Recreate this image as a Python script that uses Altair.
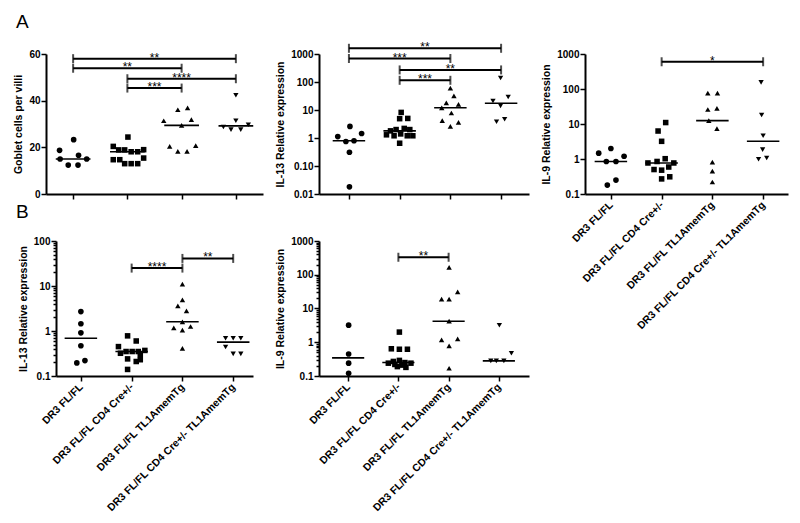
import json
import altair as alt
import pandas as pd

CATS = ["DR3 FL/FL", "DR3 FL/FL CD4 Cre+/-", "DR3 FL/FL TL1AmemTg",
        "DR3 FL/FL CD4 Cre+/- TL1AmemTg"]
SHAPES = ["circle", "square", "triangle-up", "triangle-down"]
SIZES = [32, 28, 38, 38]

# ---- Panel A1: Goblet cells per villi ----
A1_VALS = [
    [23.3, 18.7, 16.6, 15.0, 15.0, 12.4, 12.4],
    [24.4, 20.4, 18.9, 18.9, 18.1, 18.1, 19.0, 15.4, 14.7, 14.7, 13.0, 13.0, 13.0],
    [36.1, 36.9, 31.4, 31.9, 29.4, 20.7, 20.4, 18.3, 18.3],
    [42.3, 31.4, 29.7, 28.7, 27.6, 27.6],
]
A1_OFFS = [
    [0.01, -0.25, 0.10, -0.24, 0.25, -0.09, 0.09],
    [0.01, -0.26, -0.16, -0.05, 0.07, 0.19, 0.30, 0.30, -0.26, -0.14, -0.05, 0.07, 0.19],
    [-0.07, 0.11, -0.33, 0.18, 0.0, 0.26, -0.22, -0.07, 0.10],
    [0.0, 0.0, 0.23, -0.23, -0.09, 0.09],
]
A1_BR_FROM = [0, 0, 1, 1]
A1_BR_TO = [3, 2, 3, 2]
A1_BR_Y = [58, 53.9, 49.4, 45.4]
A1_BR_TXT = ["**", "**", "****", "***"]

# ---- Panel A2: IL-13 relative expression ----
A2_VALS = [
    [2.6, 1.12, 1.45, 0.75, 0.8, 0.31, 0.018],
    [8.2, 4.9, 5.0, 1.8, 2.0, 2.2, 1.3, 1.2, 1.4, 1.2, 1.2, 2.0, 0.65],
    [60, 32, 18, 16, 12, 7.8, 4.2, 3.6, 2.6],
    [138, 29, 21, 14, 3.8, 4.7],
]
A2_OFFS = [
    [0.02, -0.22, 0.25, -0.06, 0.10, 0.01, 0.01],
    [0.03, 0.0, 0.16, -0.18, -0.07, 0.09, -0.26, -0.11, 0.02, 0.15, 0.26, 0.20, 0.0],
    [0.0, 0.07, -0.08, 0.16, -0.17, 0.02, -0.16, 0.16, 0.0],
    [-0.01, 0.14, -0.16, -0.01, -0.09, 0.07],
]
A2_BR_FROM = [0, 0, 1, 1]
A2_BR_TO = [3, 2, 3, 2]
A2_BR_Y = [1600, 690, 270, 115]
A2_BR_TXT = ["**", "***", "**", "***"]

# ---- Panel A3: IL-9 relative expression ----
A3_VALS = [
    [1.47, 2.0, 1.2, 0.85, 0.85, 0.18, 0.25],
    [11, 6.3, 3.2, 0.77, 0.85, 1.02, 0.77, 0.5, 0.48, 0.59, 0.27, 0.31],
    [76, 76, 26, 28, 12.5, 7.4, 0.81, 0.45, 0.22],
    [155, 18, 4.6, 1.85, 0.98, 1.07],
]
A3_OFFS = [
    [-0.24, 0.0, 0.26, -0.09, 0.10, -0.07, 0.10],
    [0.08, -0.07, 0.0, -0.27, -0.09, 0.07, 0.24, -0.15, 0.0, 0.14, 0.0, 0.16],
    [-0.09, 0.10, -0.09, 0.09, -0.07, 0.09, 0.0, 0.0, 0.0],
    [-0.04, -0.03, 0.0, -0.01, -0.09, 0.07],
]
A3_BR_FROM = [1]
A3_BR_TO = [3]
A3_BR_Y = [600]
A3_BR_TXT = ["*"]

# ---- Panel B1: IL-13 relative expression ----
B1_VALS = [
    [2.7, 1.45, 0.91, 0.47, 0.22, 0.195],
    [0.78, 0.6, 0.45, 0.32, 0.35, 0.35, 0.35, 0.37, 0.24, 0.21, 0.23, 0.14, 0.3],
    [11, 4.9, 3.6, 2.8, 1.6, 1.17, 1.05, 1.26, 0.41],
    [0.69, 0.69, 0.69, 0.44, 0.31, 0.31],
]
B1_OFFS = [
    [0.0, 0.0, 0.0, 0.0, 0.08, -0.08],
    [-0.08, 0.09, -0.26, -0.22, -0.11, 0.01, 0.13, 0.26, -0.08, 0.09, 0.17, -0.08, 0.17],
    [0.0, 0.0, -0.09, 0.08, 0.0, -0.17, 0.0, 0.16, 0.0],
    [-0.15, 0.0, 0.15, -0.15, 0.0, 0.15],
]
B1_BR_FROM = [1, 2]
B1_BR_TO = [2, 3]
B1_BR_Y = [25, 41]
B1_BR_TXT = ["****", "**"]

# ---- Panel B2: IL-9 relative expression ----
B2_VALS = [
    [3.2, 0.45, 0.24, 0.12],
    [2.0, 0.64, 0.62, 0.62, 0.29, 0.27, 0.25, 0.24, 0.24, 0.22, 0.21, 0.19, 0.18],
    [166, 31, 19, 19, 4.2, 1.26, 1.17, 0.78, 0.17],
    [3.2, 0.47, 0.28, 0.28, 0.28],
]
B2_OFFS = [
    [0.01, 0.01, 0.01, 0.01],
    [0.02, -0.14, 0.02, 0.18, 0.02, -0.10, 0.13, -0.20, 0.25, -0.07, 0.07, -0.02, 0.15],
    [0.01, 0.18, -0.14, 0.01, 0.01, 0.18, -0.14, 0.01, 0.01],
    [0.01, 0.25, -0.16, -0.05, 0.10],
]
B2_BR_FROM = [1]
B2_BR_TO = [2]
B2_BR_Y = [330]
B2_BR_TXT = ["**"]

LOG_MINOR_B1 = [m * d for d in (0.1, 1, 10) for m in range(2, 10)]
LOG_MINOR_B2 = [m * d for d in (0.1, 1, 10, 100) for m in range(2, 10)]

FONT = "Liberation Sans"
X_LABEL_EXPR = json.dumps(CATS) + "[datum.value]"
LOG_LABEL_1 = "datum.value < 1 ? format(datum.value, '.1f') : format(datum.value, 'd')"
LOG_LABEL_2 = "datum.value < 1 ? format(datum.value, '.2f') : format(datum.value, 'd')"


def points_df(vals, offs):
    rows = []
    for g, (vs, os_) in enumerate(zip(vals, offs)):
        for v, o in zip(vs, os_):
            rows.append({"grp": g, "value": v, "pos": g + o})
    return pd.DataFrame(rows)


def panel(vals, offs, br_from, br_to, br_y, br_txt, ytitle, ytype, ydomain,
          yticks, ylabelexpr, xdomain, w, h, xlabels, minor=None, letter=None):
    df = points_df(vals, offs)
    bdf = pd.DataFrame({"x1": br_from, "x2": br_to, "y": br_y, "label": br_txt})
    bdf["xm"] = (bdf["x1"] + bdf["x2"]) / 2
    cdf = pd.DataFrame({"x": list(br_from) + list(br_to), "y": list(br_y) * 2})

    xs = alt.Scale(domain=xdomain, nice=False, zero=False)
    if ytype == "log":
        ys = alt.Scale(type="log", domain=ydomain, nice=False)
    else:
        ys = alt.Scale(domain=ydomain, nice=False)

    xaxis = alt.Axis(values=[0, 1, 2, 3], labels=xlabels, labelExpr=X_LABEL_EXPR,
                     labelAngle=-45, labelAlign="right", labelBaseline="middle",
                     labelOverlap=False, labelFlush=False,
                     labelPadding=4, title=None, tickSize=5, labelFontSize=10.5)
    yargs = dict(title=ytitle, labelPadding=1, titlePadding=5,
                 labelOverlap=False, labelFlush=False)
    if minor is not None:
        major_js = json.dumps(yticks)
        test = "indexof(" + major_js + ", datum.value) >= 0"
        yargs["values"] = list(yticks) + list(minor)
        yargs["labelExpr"] = "(" + test + ") ? (" + ylabelexpr + ") : ''"
        yargs["tickSize"] = {"condition": {"test": test, "value": 5}, "value": 3}
    else:
        yargs["values"] = yticks
        yargs["tickSize"] = 5
        if ylabelexpr:
            yargs["labelExpr"] = ylabelexpr
    yaxis = alt.Axis(**yargs)

    def X(f):
        return alt.X(f, scale=xs, axis=xaxis)

    def Y(f):
        return alt.Y(f, scale=ys, axis=yaxis)

    pts = alt.Chart(df).mark_point(filled=True, opacity=1, color="black").encode(
        x=X("pos:Q"), y=Y("value:Q"),
        shape=alt.Shape("grp:O", scale=alt.Scale(domain=[0, 1, 2, 3], range=SHAPES), legend=None),
        size=alt.Size("grp:O", scale=alt.Scale(domain=[0, 1, 2, 3], range=SIZES), legend=None),
    )
    meds = alt.Chart(df).transform_aggregate(
        med="median(value)", groupby=["grp"]
    ).transform_calculate(
        m1="datum.grp - 0.32", m2="datum.grp + 0.32"
    ).mark_rule(color="black", strokeWidth=1.6).encode(
        x=X("m1:Q"), x2="m2:Q", y=Y("med:Q"),
    )
    rules = alt.Chart(bdf).mark_rule(color="black", strokeWidth=2).encode(
        x=X("x1:Q"), x2="x2:Q", y=Y("y:Q"),
    )
    caps = alt.Chart(cdf).mark_tick(orient="vertical", size=9, thickness=2, color="black").encode(
        x=X("x:Q"), y=Y("y:Q"),
    )
    stars = alt.Chart(bdf).mark_text(font=FONT, fontSize=12, color="black",
                                     baseline="alphabetic", dy=3).encode(
        x=X("xm:Q"), y=Y("y:Q"), text="label:N",
    )
    layers = [pts, meds, rules, caps, stars]
    if letter is not None:
        ldf = pd.DataFrame({"t": [letter[0]]})
        layers.append(alt.Chart(ldf).mark_text(font=FONT, fontSize=19, color="black",
                                                align="left", baseline="alphabetic").encode(
            x=alt.value(letter[1]), y=alt.value(letter[2]), text="t:N"))
    return alt.layer(*layers).properties(width=w, height=h)


a1 = panel(A1_VALS, A1_OFFS, A1_BR_FROM, A1_BR_TO, A1_BR_Y, A1_BR_TXT,
           "Goblet cells per villi", "linear", [0, 60], [0, 20, 40, 60], None,
           [-0.5, 3.5], 217, 140, False, letter=("A", -30, -26))
a2 = panel(A2_VALS, A2_OFFS, A2_BR_FROM, A2_BR_TO, A2_BR_Y, A2_BR_TXT,
           "IL-13 Relative expression", "log", [0.01, 1000],
           [0.01, 0.1, 1, 10, 100, 1000], LOG_LABEL_2,
           [-0.59, 3.55], 210, 140, False)
a3 = panel(A3_VALS, A3_OFFS, A3_BR_FROM, A3_BR_TO, A3_BR_Y, A3_BR_TXT,
           "IL-9 Relative expression", "log", [0.1, 1000],
           [0.1, 1, 10, 100, 1000], LOG_LABEL_1,
           [-0.51, 3.49], 203, 140, True)
b1 = panel(B1_VALS, B1_OFFS, B1_BR_FROM, B1_BR_TO, B1_BR_Y, B1_BR_TXT,
           "IL-13 Relative expression", "log", [0.1, 100],
           [0.1, 1, 10, 100], LOG_LABEL_1,
           [-0.49, 3.39], 197, 135, True, minor=LOG_MINOR_B1, letter=("B", -40, -23))
b2 = panel(B2_VALS, B2_OFFS, B2_BR_FROM, B2_BR_TO, B2_BR_Y, B2_BR_TXT,
           "IL-9 Relative expression", "log", [0.1, 1000],
           [0.1, 1, 10, 100, 1000], LOG_LABEL_1,
           [-0.58, 3.60], 210, 135, True, minor=LOG_MINOR_B2)

chart = alt.concat(
    a1, a2, a3, b1, b2, columns=3, spacing={"row": 47, "column": 56},
    bounds="flush", align="each", center={"column": True, "row": False},
).properties(
    padding={"left": 5, "top": 5, "right": 2, "bottom": 2}, background="white"
).configure_view(stroke=None).configure_axis(
    labelFont=FONT, labelFontSize=10, labelFontWeight="bold", labelColor="black",
    titleFont=FONT, titleFontSize=10.5, titleFontWeight="bold", titleColor="black",
    domainColor="black", domainWidth=2, tickColor="black", tickWidth=1.5, grid=False,
)

chart.save("out.html", embed_options={"renderer": "svg", "actions": False})
